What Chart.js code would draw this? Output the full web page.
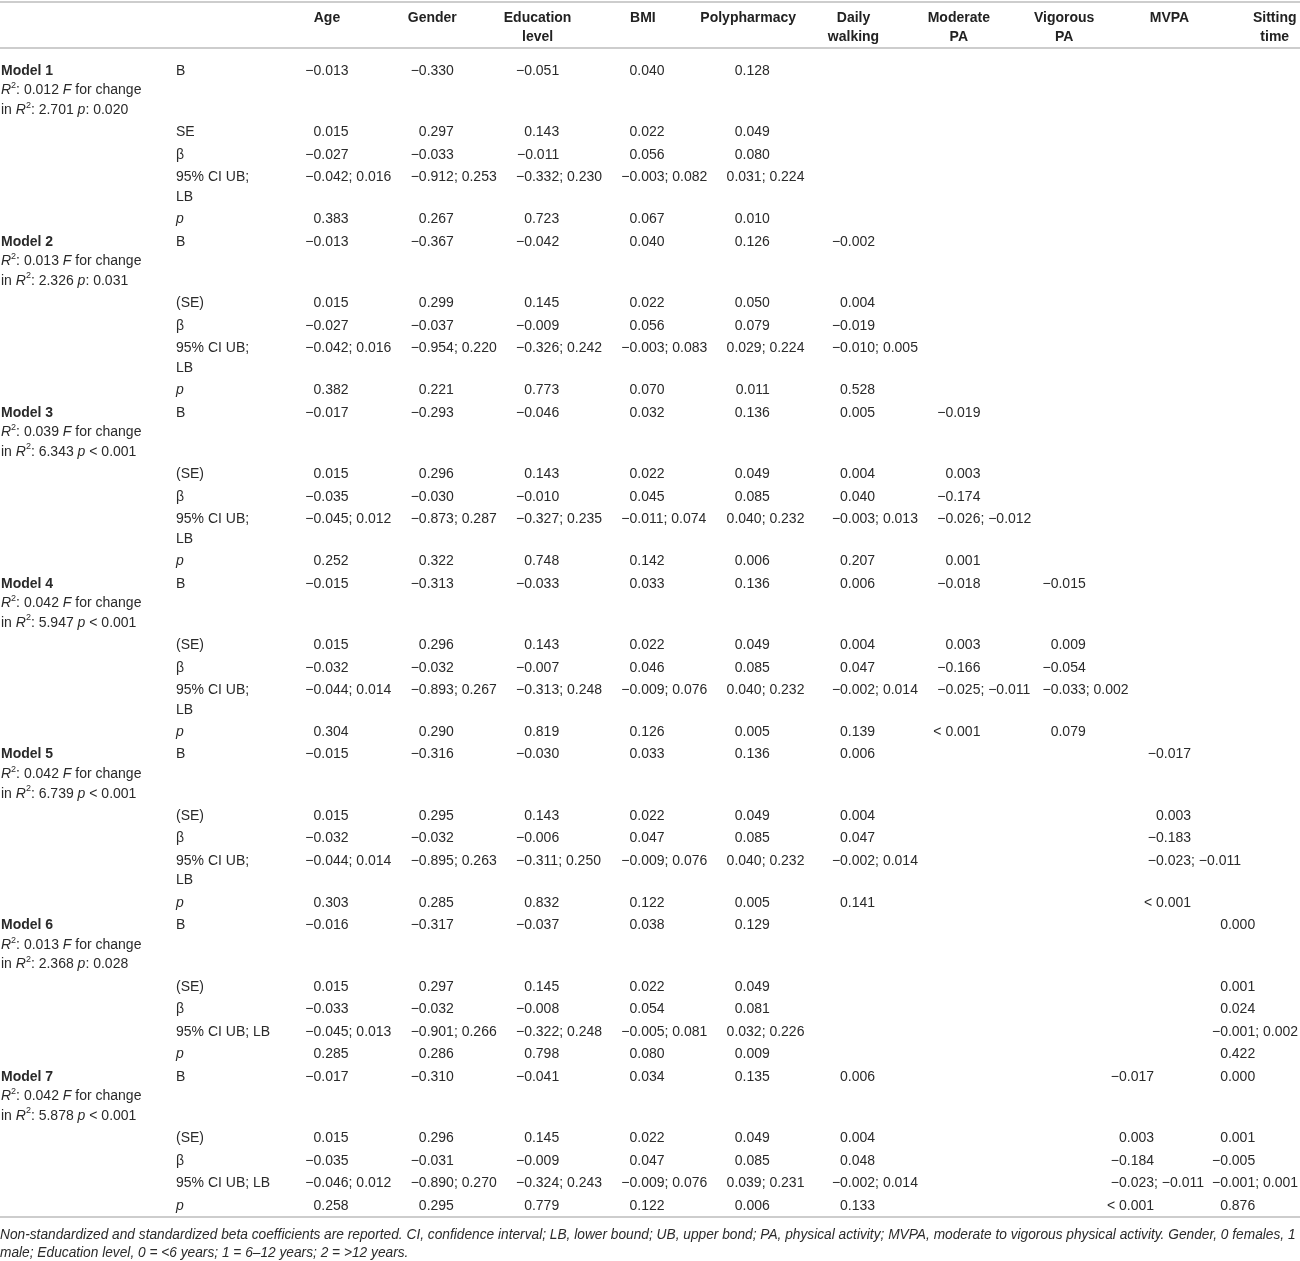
<!DOCTYPE html>
<html>
<head>
<meta charset="utf-8">
<title>Regression models</title>
<script src="https://cdn.jsdelivr.net/npm/chart.js@4.4.0/dist/chart.umd.min.js"></script>
<style>
  body { margin: 0; background: #fff; }
  #wrap { width: 1300px; height: 1261px; }
</style>
</head>
<body>
<div id="wrap"><canvas id="table"></canvas></div>
<script>
// column headers, one entry per printed line
const columns = [['Age'], ['Gender'], ['Education', 'level'], ['BMI'], ['Polypharmacy'],
  ['Daily', 'walking'], ['Moderate', 'PA'], ['Vigorous', 'PA'], ['MVPA'], ['Sitting', 'time']];

const models = ['Model 1', 'Model 2', 'Model 3', 'Model 4', 'Model 5', 'Model 6', 'Model 7'];
const modelR2 = [0.012, 0.013, 0.039, 0.042, 0.042, 0.013, 0.042];
const modelF = [2.701, 2.326, 6.343, 5.947, 6.739, 2.368, 5.878];
const modelP = ['0.020', '0.031', '< 0.001', '< 0.001', '< 0.001', '0.028', '< 0.001'];

const seLabel = ['SE', '(SE)', '(SE)', '(SE)', '(SE)', '(SE)', '(SE)'];
const ciWrapped = [true, true, true, true, true, false, false];

// one array per model, one entry per column (null = not in model)
const bValues = [
  [-0.013, -0.330, -0.051, 0.040, 0.128, null, null, null, null, null],
  [-0.013, -0.367, -0.042, 0.040, 0.126, -0.002, null, null, null, null],
  [-0.017, -0.293, -0.046, 0.032, 0.136, 0.005, -0.019, null, null, null],
  [-0.015, -0.313, -0.033, 0.033, 0.136, 0.006, -0.018, -0.015, null, null],
  [-0.015, -0.316, -0.030, 0.033, 0.136, 0.006, null, null, -0.017, null],
  [-0.016, -0.317, -0.037, 0.038, 0.129, null, null, null, null, 0.000],
  [-0.017, -0.310, -0.041, 0.034, 0.135, 0.006, null, null, -0.017, 0.000]
];
const seValues = [
  [0.015, 0.297, 0.143, 0.022, 0.049, null, null, null, null, null],
  [0.015, 0.299, 0.145, 0.022, 0.050, 0.004, null, null, null, null],
  [0.015, 0.296, 0.143, 0.022, 0.049, 0.004, 0.003, null, null, null],
  [0.015, 0.296, 0.143, 0.022, 0.049, 0.004, 0.003, 0.009, null, null],
  [0.015, 0.295, 0.143, 0.022, 0.049, 0.004, null, null, 0.003, null],
  [0.015, 0.297, 0.145, 0.022, 0.049, null, null, null, null, 0.001],
  [0.015, 0.296, 0.145, 0.022, 0.049, 0.004, null, null, 0.003, 0.001]
];
const betaValues = [
  [-0.027, -0.033, -0.011, 0.056, 0.080, null, null, null, null, null],
  [-0.027, -0.037, -0.009, 0.056, 0.079, -0.019, null, null, null, null],
  [-0.035, -0.030, -0.010, 0.045, 0.085, 0.040, -0.174, null, null, null],
  [-0.032, -0.032, -0.007, 0.046, 0.085, 0.047, -0.166, -0.054, null, null],
  [-0.032, -0.032, -0.006, 0.047, 0.085, 0.047, null, null, -0.183, null],
  [-0.033, -0.032, -0.008, 0.054, 0.081, null, null, null, null, 0.024],
  [-0.035, -0.031, -0.009, 0.047, 0.085, 0.048, null, null, -0.184, -0.005]
];
const ciLow = [
  [-0.042, -0.912, -0.332, -0.003, 0.031, null, null, null, null, null],
  [-0.042, -0.954, -0.326, -0.003, 0.029, -0.010, null, null, null, null],
  [-0.045, -0.873, -0.327, -0.011, 0.040, -0.003, -0.026, null, null, null],
  [-0.044, -0.893, -0.313, -0.009, 0.040, -0.002, -0.025, -0.033, null, null],
  [-0.044, -0.895, -0.311, -0.009, 0.040, -0.002, null, null, -0.023, null],
  [-0.045, -0.901, -0.322, -0.005, 0.032, null, null, null, null, -0.001],
  [-0.046, -0.890, -0.324, -0.009, 0.039, -0.002, null, null, -0.023, -0.001]
];
const ciHigh = [
  [0.016, 0.253, 0.230, 0.082, 0.224, null, null, null, null, null],
  [0.016, 0.220, 0.242, 0.083, 0.224, 0.005, null, null, null, null],
  [0.012, 0.287, 0.235, 0.074, 0.232, 0.013, -0.012, null, null, null],
  [0.014, 0.267, 0.248, 0.076, 0.232, 0.014, -0.011, 0.002, null, null],
  [0.014, 0.263, 0.250, 0.076, 0.232, 0.014, null, null, -0.011, null],
  [0.013, 0.266, 0.248, 0.081, 0.226, null, null, null, null, 0.002],
  [0.012, 0.270, 0.243, 0.076, 0.231, 0.014, null, null, -0.011, 0.001]
];
const pValues = [
  [0.383, 0.267, 0.723, 0.067, 0.010, null, null, null, null, null],
  [0.382, 0.221, 0.773, 0.070, 0.011, 0.528, null, null, null, null],
  [0.252, 0.322, 0.748, 0.142, 0.006, 0.207, 0.001, null, null, null],
  [0.304, 0.290, 0.819, 0.126, 0.005, 0.139, '< 0.001', 0.079, null, null],
  [0.303, 0.285, 0.832, 0.122, 0.005, 0.141, null, null, '< 0.001', null],
  [0.285, 0.286, 0.798, 0.080, 0.009, null, null, null, null, 0.422],
  [0.258, 0.295, 0.779, 0.122, 0.006, 0.133, null, null, '< 0.001', 0.876]
];

const footnote = [
  'Non-standardized and standardized beta coefficients are reported. CI, confidence interval; LB, lower bound; UB, upper bond; PA, physical activity; MVPA, moderate to vigorous physical activity. Gender, 0 females, 1',
  'male; Education level, 0 = <6 years; 1 = 6\u201312 years; 2 = >12 years.'
];

// ---- layout ----
const FAMILY = '"Liberation Sans", Arial, sans-serif';
const SIZE = 14;
const TEXT = '#2a2a2a';
const RULE = '#cdcdcd';
const ROW_PAD = 0.15;     // extra space per row, in text lines
const TOP_GAP = 0.61;     // space under the header rule, in text lines
const X_MIN = -3.105, X_MAX = 9.24;
const STAT_COL = -1.434;
const GAP = 8;            // min px between neighbouring cells of a row

function fmt(v) {
  if (typeof v === 'string') return v;
  return (v < 0 ? '\u2212' : '') + Math.abs(v).toFixed(3);
}

// row positions in text-line units
const rows = [];
let cursor = 0;
models.forEach((m, k) => {
  const heights = [3, 1, 1, ciWrapped[k] ? 2 : 1, 1];
  heights.forEach((h, r) => {
    rows.push({ model: k, stat: r, y: cursor + ROW_PAD / 2 + 0.5 });
    cursor += h + ROW_PAD;
  });
});
const totalLines = cursor;

// cells: one point per printed value
const cells = [];
rows.forEach(row => {
  const k = row.model;
  columns.forEach((col, c) => {
    let text = null, kind = 'num';
    if (row.stat === 0 && bValues[k][c] !== null) text = fmt(bValues[k][c]);
    if (row.stat === 1 && seValues[k][c] !== null) text = fmt(seValues[k][c]);
    if (row.stat === 2 && betaValues[k][c] !== null) text = fmt(betaValues[k][c]);
    if (row.stat === 3 && ciLow[k][c] !== null) { text = fmt(ciLow[k][c]) + '; ' + fmt(ciHigh[k][c]); kind = 'ci'; }
    if (row.stat === 4 && pValues[k][c] !== null) text = fmt(pValues[k][c]);
    if (text !== null) cells.push({ x: c, y: row.y, text: text, kind: kind, model: k, stat: row.stat });
  });
});

function drawRich(ctx, parts, x, y) {
  parts.forEach(p => {
    let size = SIZE, dy = 0;
    if (p.sup) { size = 9; dy = -5; }
    ctx.font = (p.it ? 'italic ' : '') + size + 'px ' + FAMILY;
    ctx.fillText(p.t, x, y + dy);
    x += ctx.measureText(p.t).width;
  });
}

const tablePlugin = {
  id: 'tableText',
  beforeDraw(chart) {
    const ctx = chart.ctx;
    ctx.save();
    ctx.fillStyle = RULE;
    ctx.fillRect(0, 1, chart.width, 2);
    ctx.restore();
  },
  afterDatasetsDraw(chart) {
    const { ctx, chartArea, scales } = chart;
    const xs = scales.x, ys = scales.y;
    const lineH = ys.getPixelForValue(1) - ys.getPixelForValue(0);
    ctx.save();
    ctx.fillStyle = TEXT;
    ctx.textBaseline = 'middle';
    ctx.font = SIZE + 'px ' + FAMILY;
    const numW = ctx.measureText('\u22120.000').width;

    // keep the widest entry of a column inside the table
    const shift = columns.map((col, c) => {
      let widest = numW;
      cells.forEach(d => { if (d.x === c) widest = Math.max(widest, ctx.measureText(d.text).width); });
      const left = xs.getPixelForValue(c) - numW / 2;
      return Math.min(0, chartArea.right - 2 - (left + widest));
    });

    // numbers right-aligned, intervals left-aligned, inside each column
    const data = chart.data.datasets[0].data;
    const placed = chart.getDatasetMeta(0).data.map((el, i) => {
      const d = data[i];
      const w = ctx.measureText(d.text).width;
      const left = d.kind === 'ci' ? el.x - numW / 2 + shift[d.x] : el.x + numW / 2 + shift[d.x] - w;
      return { d: d, y: el.y, left: left, right: left + w, dx: 0 };
    });

    // a column of one model moves left when it would run into its right neighbour
    models.forEach((m, k) => {
      for (let c = columns.length - 2; c >= 0; c--) {
        const own = placed.filter(p => p.d.model === k && p.d.x === c);
        let need = 0;
        own.forEach(p => {
          placed.forEach(q => {
            if (q.d.model === k && q.d.stat === p.d.stat && q.d.x > c) {
              need = Math.min(need, (q.left + q.dx) - GAP - p.right);
            }
          });
        });
        own.forEach(p => { p.dx = need; });
      }
    });

    ctx.textAlign = 'left';
    placed.forEach(p => ctx.fillText(p.d.text, p.left + p.dx, p.y));

    // row labels and model descriptions
    const statX = xs.getPixelForValue(STAT_COL);
    rows.forEach(row => {
      const k = row.model;
      const y = ys.getPixelForValue(row.y);
      ctx.font = SIZE + 'px ' + FAMILY;
      if (row.stat === 0) ctx.fillText('B', statX, y);
      if (row.stat === 1) ctx.fillText(seLabel[k], statX, y);
      if (row.stat === 2) ctx.fillText('\u03b2', statX, y);
      if (row.stat === 3) {
        if (ciWrapped[k]) {
          ctx.fillText('95% CI UB;', statX, y);
          ctx.fillText('LB', statX, y + lineH);
        } else {
          ctx.fillText('95% CI UB; LB', statX, y);
        }
      }
      if (row.stat === 4) {
        ctx.font = 'italic ' + SIZE + 'px ' + FAMILY;
        ctx.fillText('p', statX, y);
      }
      if (row.stat === 0) {
        const x0 = chartArea.left + 1;
        ctx.font = 'bold ' + SIZE + 'px ' + FAMILY;
        ctx.fillText(models[k], x0, y);
        const pTxt = modelP[k].charAt(0) === '<' ? ' ' + modelP[k] : ': ' + modelP[k];
        drawRich(ctx, [{ t: 'R', it: 1 }, { t: '2', sup: 1 }, { t: ': ' + modelR2[k].toFixed(3) + ' ' },
          { t: 'F', it: 1 }, { t: ' for change' }], x0, y + lineH);
        drawRich(ctx, [{ t: 'in ' }, { t: 'R', it: 1 }, { t: '2', sup: 1 }, { t: ': ' + modelF[k].toFixed(3) + ' ' },
          { t: 'p', it: 1 }, { t: pTxt }], x0, y + 2 * lineH);
      }
    });

    // footnote under the bottom rule
    let fs = SIZE;
    ctx.font = 'italic ' + fs + 'px ' + FAMILY;
    const w = ctx.measureText(footnote[0]).width;
    if (w > chart.width - 3) fs = fs * (chart.width - 3) / w;
    ctx.font = 'italic ' + fs + 'px ' + FAMILY;
    footnote.forEach((line, i) => {
      ctx.fillText(line, 0, chartArea.bottom + 18 + i * 18);
    });
    ctx.restore();
  }
};

new Chart(document.getElementById('table'), {
  type: 'scatter',
  data: {
    datasets: [{
      data: cells,
      pointRadius: 0,
      pointHoverRadius: 0,
      pointHitRadius: 0
    }]
  },
  options: {
    responsive: true,
    maintainAspectRatio: false,
    animation: false,
    events: [],
    layout: { padding: { top: 7, bottom: 44, left: 0, right: 0 } },
    plugins: { legend: { display: false }, tooltip: { enabled: false } },
    scales: {
      x: {
        type: 'linear',
        position: 'top',
        min: X_MIN,
        max: X_MAX,
        afterBuildTicks: s => { s.ticks = columns.map((c, i) => ({ value: i })); },
        ticks: {
          autoSkip: false,
          maxRotation: 0,
          minRotation: 0,
          padding: 1,
          crossAlign: 'far',
          color: '#222',
          font: { family: FAMILY, size: SIZE, weight: 'bold', lineHeight: 1.39 },
          callback: v => columns[v]
        },
        grid: { display: false, drawTicks: false },
        border: { display: true, color: RULE, width: 2 }
      },
      x2: {
        type: 'linear',
        position: 'bottom',
        ticks: { display: false },
        grid: { display: false, drawTicks: false },
        border: { display: true, color: RULE, width: 2 }
      },
      y: {
        type: 'linear',
        display: false,
        reverse: true,
        min: -TOP_GAP,
        max: totalLines
      }
    }
  },
  plugins: [tablePlugin]
});
</script>
</body>
</html>
